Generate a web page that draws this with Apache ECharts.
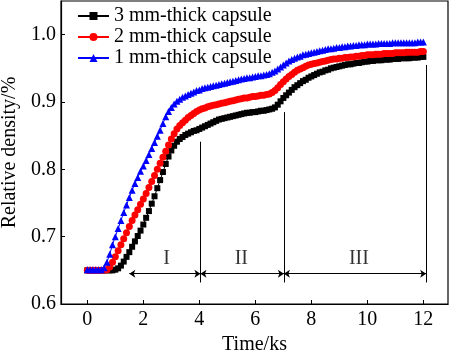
<!DOCTYPE html>
<html>
<head>
<meta charset="utf-8">
<title>Relative density vs time</title>
<script src="https://cdn.jsdelivr.net/npm/echarts@6/dist/echarts.min.js"></script>
<style>
    html, body { margin: 0; padding: 0; background: #fff; }
    #chart { width: 450px; height: 351px; }
</style>
</head>
<body>
<div id="chart"></div>
<script type="text/javascript">

    // time, ks (0.1 ks sampling)
    var time = [
        0.0, 0.1, 0.2, 0.3, 0.4, 0.5, 0.6, 0.7, 0.8, 0.9,
        1.0, 1.1, 1.2, 1.3, 1.4, 1.5, 1.6, 1.7, 1.8, 1.9,
        2.0, 2.1, 2.2, 2.3, 2.4, 2.5, 2.6, 2.7, 2.8, 2.9,
        3.0, 3.1, 3.2, 3.3, 3.4, 3.5, 3.6, 3.7, 3.8, 3.9,
        4.0, 4.1, 4.2, 4.3, 4.4, 4.5, 4.6, 4.7, 4.8, 4.9,
        5.0, 5.1, 5.2, 5.3, 5.4, 5.5, 5.6, 5.7, 5.8, 5.9,
        6.0, 6.1, 6.2, 6.3, 6.4, 6.5, 6.6, 6.7, 6.8, 6.9,
        7.0, 7.1, 7.2, 7.3, 7.4, 7.5, 7.6, 7.7, 7.8, 7.9,
        8.0, 8.1, 8.2, 8.3, 8.4, 8.5, 8.6, 8.7, 8.8, 8.9,
        9.0, 9.1, 9.2, 9.3, 9.4, 9.5, 9.6, 9.7, 9.8, 9.9,
        10.0, 10.1, 10.2, 10.3, 10.4, 10.5, 10.6, 10.7, 10.8, 10.9,
        11.0, 11.1, 11.2, 11.3, 11.4, 11.5, 11.6, 11.7, 11.8, 11.9,
        12.0
    ];

    // 3 mm-thick capsule
    var dens3 = [
        0.650, 0.650, 0.650, 0.650, 0.650, 0.650, 0.650, 0.650, 0.650, 0.650,
        0.651, 0.653, 0.657, 0.663, 0.670, 0.677, 0.685, 0.693, 0.701, 0.709,
        0.718, 0.728, 0.738, 0.749, 0.760, 0.772, 0.784, 0.796, 0.808, 0.819,
        0.828, 0.835, 0.841, 0.845, 0.848, 0.851, 0.853, 0.855, 0.857, 0.858,
        0.860, 0.862, 0.864, 0.866, 0.868, 0.870, 0.872, 0.874, 0.875, 0.876,
        0.877, 0.878, 0.879, 0.880, 0.881, 0.882, 0.883, 0.884, 0.884, 0.885,
        0.885, 0.886, 0.887, 0.887, 0.888, 0.889, 0.890, 0.892, 0.896, 0.901,
        0.906, 0.910, 0.914, 0.918, 0.922, 0.925, 0.928, 0.931, 0.933, 0.936,
        0.938, 0.940, 0.942, 0.944, 0.945, 0.947, 0.948, 0.950, 0.951, 0.952,
        0.953, 0.954, 0.955, 0.956, 0.956, 0.957, 0.958, 0.958, 0.959, 0.960,
        0.960, 0.961, 0.961, 0.962, 0.962, 0.962, 0.963, 0.963, 0.963, 0.964,
        0.964, 0.964, 0.965, 0.965, 0.965, 0.965, 0.966, 0.966, 0.966, 0.967,
        0.967
    ];

    // 2 mm-thick capsule
    var dens2 = [
        0.650, 0.650, 0.650, 0.650, 0.650, 0.650, 0.650, 0.651, 0.655, 0.662,
        0.670, 0.679, 0.688, 0.697, 0.706, 0.715, 0.724, 0.732, 0.740, 0.748,
        0.756, 0.764, 0.773, 0.782, 0.791, 0.800, 0.809, 0.818, 0.827, 0.836,
        0.845, 0.853, 0.860, 0.865, 0.869, 0.873, 0.877, 0.880, 0.883, 0.886,
        0.888, 0.890, 0.891, 0.893, 0.894, 0.895, 0.896, 0.897, 0.898, 0.899,
        0.900, 0.901, 0.902, 0.903, 0.904, 0.905, 0.906, 0.906, 0.907, 0.908,
        0.908, 0.909, 0.910, 0.910, 0.911, 0.912, 0.914, 0.917, 0.921, 0.926,
        0.930, 0.934, 0.938, 0.941, 0.944, 0.947, 0.949, 0.951, 0.953, 0.955,
        0.956, 0.957, 0.958, 0.959, 0.960, 0.961, 0.962, 0.963, 0.964, 0.964,
        0.965, 0.965, 0.966, 0.966, 0.967, 0.967, 0.968, 0.968, 0.969, 0.969,
        0.970, 0.970, 0.970, 0.971, 0.971, 0.971, 0.972, 0.972, 0.972, 0.972,
        0.973, 0.973, 0.973, 0.973, 0.974, 0.974, 0.974, 0.974, 0.974, 0.975,
        0.975
    ];

    // 1 mm-thick capsule
    var dens1 = [
        0.651, 0.651, 0.651, 0.651, 0.651, 0.651, 0.654, 0.662, 0.674, 0.688,
        0.700, 0.712, 0.724, 0.736, 0.747, 0.758, 0.769, 0.779, 0.788, 0.797,
        0.805, 0.813, 0.822, 0.831, 0.840, 0.849, 0.858, 0.868, 0.878, 0.886,
        0.892, 0.897, 0.901, 0.904, 0.907, 0.909, 0.911, 0.913, 0.915, 0.917,
        0.918, 0.920, 0.921, 0.922, 0.923, 0.924, 0.925, 0.926, 0.927, 0.928,
        0.929, 0.930, 0.931, 0.932, 0.933, 0.934, 0.935, 0.936, 0.936, 0.937,
        0.938, 0.939, 0.939, 0.940, 0.941, 0.942, 0.944, 0.946, 0.949, 0.952,
        0.955, 0.958, 0.961, 0.963, 0.965, 0.967, 0.968, 0.970, 0.971, 0.972,
        0.973, 0.974, 0.975, 0.976, 0.977, 0.978, 0.979, 0.979, 0.980, 0.981,
        0.981, 0.982, 0.982, 0.983, 0.983, 0.984, 0.984, 0.985, 0.985, 0.985,
        0.986, 0.986, 0.986, 0.986, 0.987, 0.987, 0.987, 0.987, 0.987, 0.988,
        0.988, 0.988, 0.988, 0.988, 0.988, 0.988, 0.988, 0.988, 0.989, 0.989,
        0.989
    ];

    var xTicks = [0, 2, 4, 6, 8, 10, 12];
    var yTicks = [0.6, 0.7, 0.8, 0.9, 1.0];

    // stage boundaries and arrows
    var boundX = [4.04, 7.02, 12.1];
    var boundTop = [0.841, 0.885, 0.955];
    var boundBottom = 0.632;
    var arrowFrom = [1.5, 4.04, 7.02];
    var arrowTo = [4.04, 7.02, 12.1];
    var arrowY = 0.645;
    var stageNames = ['I', 'II', 'III'];
    var stageX = [2.83, 5.5, 9.7];
    var stageY = 0.667;

    var FONT = '"Liberation Serif", "Times New Roman", serif';

    function pairs(ys) {
        var out = [];
        for (var i = 0; i < time.length; i++) out.push([time[i], ys[i]]);
        return out;
    }

    var marks = [];
    for (var i = 0; i < boundX.length; i++) {
        marks.push([{coord: [boundX[i], boundTop[i]], symbol: 'none'},
                    {coord: [boundX[i], boundBottom], symbol: 'none'}]);
    }
    for (var j = 0; j < arrowFrom.length; j++) {
        marks.push([{coord: [arrowFrom[j], arrowY], symbol: 'arrow'},
                    {coord: [arrowTo[j], arrowY], symbol: 'arrow'}]);
    }

    var labels = [];
    for (var k = 0; k < stageNames.length; k++) {
        labels.push({value: [stageX[k], stageY], name: stageNames[k]});
    }

    var myChart = echarts.init(document.getElementById('chart'));

    var option = {
        animation: false,
        grid: {
            left: 61, right: 2, top: 1, bottom: 47,
            outerBoundsMode: 'none', containLabel: false,
            show: true, borderColor: '#000', borderWidth: 1.2, backgroundColor: 'transparent'
        },
        legend: {
            left: 77, top: 6, orient: 'vertical', padding: 0,
            itemWidth: 31, itemHeight: 10, itemGap: 1,
            textStyle: {fontFamily: FONT, fontSize: 20, lineHeight: 20, color: '#000'},
            data: ['3 mm-thick capsule', '2 mm-thick capsule', '1 mm-thick capsule']
        },
        xAxis: {
            type: 'value', min: -0.94, max: 12.88,
            name: 'Time/ks', nameLocation: 'middle', nameGap: 28,
            nameTextStyle: {fontFamily: FONT, fontSize: 20, color: '#000'},
            axisLine: {onZero: false, lineStyle: {color: '#000', width: 1.2}},
            axisTick: {inside: true, length: 4, customValues: xTicks, lineStyle: {color: '#000'}},
            axisLabel: {customValues: xTicks, margin: 6, fontFamily: FONT, fontSize: 20, color: '#000'},
            splitLine: {show: false}
        },
        yAxis: {
            type: 'value', min: 0.6, max: 1.05,
            name: 'Relative density/%', nameLocation: 'middle', nameGap: 40,
            nameTextStyle: {fontFamily: FONT, fontSize: 20, color: '#000'},
            axisLine: {show: true, onZero: false, lineStyle: {color: '#000', width: 1.2}},
            axisTick: {show: true, inside: true, length: 4, customValues: yTicks, lineStyle: {color: '#000'}},
            axisLabel: {
                customValues: yTicks, margin: 5, fontFamily: FONT, fontSize: 20, color: '#000',
                formatter: function (v) { return v.toFixed(1); }
            },
            splitLine: {show: false}
        },
        series: [
            {
                name: '3 mm-thick capsule', type: 'line', data: pairs(dens3),
                symbol: 'rect', symbolSize: 6, showAllSymbol: true,
                itemStyle: {color: '#000'}, lineStyle: {color: '#000', width: 1}
            },
            {
                name: '2 mm-thick capsule', type: 'line', data: pairs(dens2),
                symbol: 'circle', symbolSize: 7, showAllSymbol: true,
                itemStyle: {color: '#ff0000'}, lineStyle: {color: '#ff0000', width: 1}
            },
            {
                name: '1 mm-thick capsule', type: 'line', data: pairs(dens1),
                symbol: 'triangle', symbolSize: 7, showAllSymbol: true,
                itemStyle: {color: '#0000ff'}, lineStyle: {color: '#0000ff', width: 1}
            },
            {
                name: 'stages', type: 'line', data: [],
                markLine: {
                    silent: true, animation: false,
                    symbolSize: 6,
                    label: {show: false},
                    lineStyle: {color: '#000', width: 1, type: 'solid'},
                    data: marks
                }
            },
            {
                name: 'stage labels', type: 'scatter', data: labels,
                symbolSize: 0, silent: true,
                label: {
                    show: true, position: 'inside', formatter: '{b}',
                    fontFamily: FONT, fontSize: 20, color: '#000'
                }
            }
        ]
    };
    myChart.setOption(option);
</script>
</body>
</html>
